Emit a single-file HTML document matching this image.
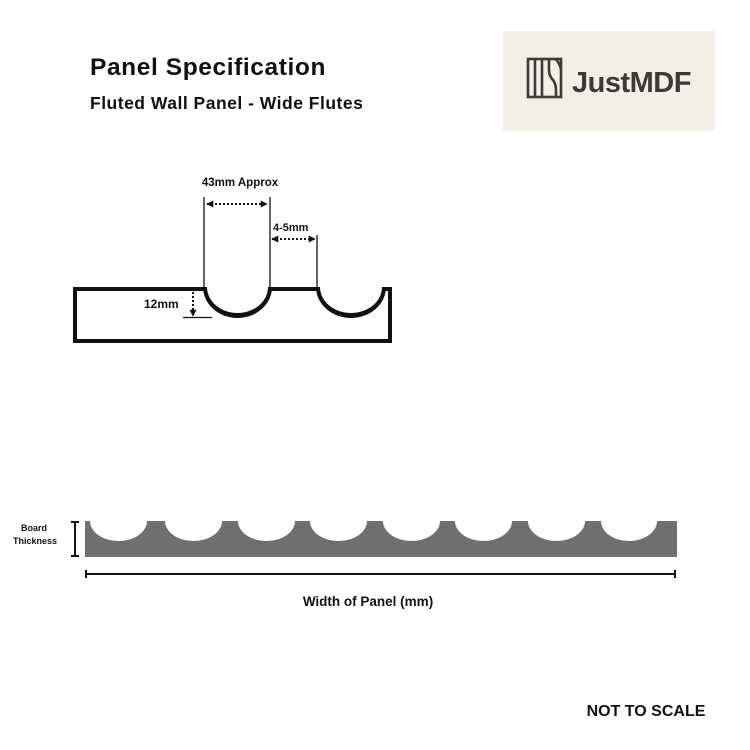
<!DOCTYPE html>
<html><head><meta charset="utf-8"><style>
html,body{margin:0;padding:0;background:#fff;}
svg{display:block;}
text{font-family:"Liberation Sans",sans-serif;font-weight:bold;fill:#111;}
</style></head><body>
<svg width="750" height="750" viewBox="0 0 750 750" xmlns="http://www.w3.org/2000/svg">
<defs>
<marker id="ah" viewBox="0 0 10 10" refX="9" refY="5" markerWidth="3.5" markerHeight="3.5" orient="auto-start-reverse">
<path d="M0,0 L10,5 L0,10 z" fill="#111"/>
</marker>
</defs>
<text x="90" y="75" font-size="24.5" letter-spacing="0.6">Panel Specification</text>
<text x="90" y="109" font-size="17.5" letter-spacing="0.5">Fluted Wall Panel - Wide Flutes</text>

<rect x="503" y="31" width="212" height="100" fill="#f1efe8"/>
<g stroke="#3a3a38" stroke-width="2.6" fill="none">
<rect x="528" y="59" width="33" height="38"/>
<line x1="535" y1="59" x2="535" y2="97"/>
<line x1="542" y1="59" x2="542" y2="97"/>
<path d="M549,59 L549,70 Q549,76 553,80 Q556,84 556,90 L556,97"/>
<path d="M556,59 Q561,66 561,70"/>
</g>
<text x="572" y="92" font-size="29" style="fill:#3a3a38" letter-spacing="-0.5">JustMDF</text>

<text x="240" y="186" font-size="11.5" text-anchor="middle">43mm Approx</text>
<text x="273" y="231" font-size="11">4-5mm</text>
<g stroke="#111" stroke-width="1.3">
<line x1="204" y1="197" x2="204" y2="289"/>
<line x1="270" y1="197" x2="270" y2="289"/>
<line x1="317" y1="235" x2="317" y2="289"/>
</g>
<g stroke="#111" stroke-width="2" stroke-dasharray="2,2" fill="none">
<line x1="207" y1="204" x2="267" y2="204" marker-start="url(#ah)" marker-end="url(#ah)"/>
<line x1="272" y1="239" x2="315" y2="239" marker-start="url(#ah)" marker-end="url(#ah)"/>
<line x1="193" y1="292" x2="193" y2="316" marker-end="url(#ah)"/>
</g>
<line x1="183" y1="317.5" x2="212" y2="317.5" stroke="#111" stroke-width="1.3"/>
<text x="144" y="308" font-size="12">12mm</text>

<g stroke="#111" stroke-width="4" fill="none" stroke-linejoin="miter">
<path d="M385,289 L390,289 L390,341 L75,341 L75,289 L206,289"/>
<line x1="270" y1="289" x2="319" y2="289"/>
</g>
<path fill="#111" d="M203,287 A34.5,31 0 0 0 272,287 L268,287 A30.5,26 0 0 1 207,287 Z"/>
<path fill="#111" d="M316,287 A35,31 0 0 0 386,287 L382,287 A31,26 0 0 1 320,287 Z"/>

<text x="34" y="531" font-size="9" text-anchor="middle">Board</text>
<text x="35" y="544" font-size="9" text-anchor="middle">Thickness</text>
<g stroke="#111" stroke-width="2">
<line x1="75" y1="522" x2="75" y2="556"/>
<line x1="71" y1="522" x2="79" y2="522"/>
<line x1="71" y1="556" x2="79" y2="556"/>
<line x1="86" y1="574" x2="675" y2="574"/>
<line x1="86" y1="570" x2="86" y2="578"/>
<line x1="675" y1="570" x2="675" y2="578"/>
</g>
<path fill="#6d706f" d="M85,521
L90,521 A28.5,20 0 0 0 147,521
L165,521 A28.5,20 0 0 0 222,521
L238,521 A28.5,20 0 0 0 295,521
L310,521 A28.5,20 0 0 0 367,521
L383,521 A28.5,20 0 0 0 440,521
L455,521 A28.5,20 0 0 0 512,521
L528,521 A28.5,20 0 0 0 585,521
L601,521 A28,20 0 0 0 657,521
L677,521 L677,557 L85,557 Z"/>
<text x="368" y="606" font-size="13.5" text-anchor="middle">Width of Panel (mm)</text>
<text x="646" y="716" font-size="16" text-anchor="middle">NOT TO SCALE</text>
</svg>
</body></html>
